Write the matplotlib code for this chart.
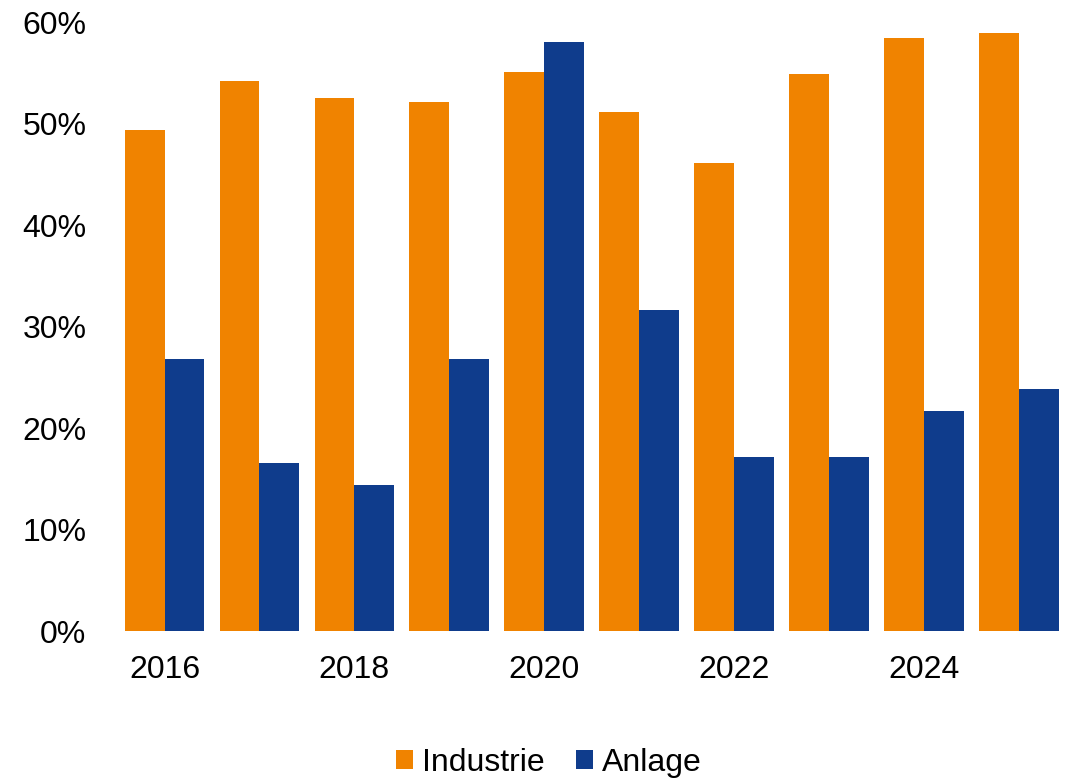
import matplotlib
matplotlib.use("Agg")
import matplotlib.pyplot as plt
import numpy as np

years = [2016, 2017, 2018, 2019, 2020, 2021, 2022, 2023, 2024, 2025]
industrie = [49.4, 54.2, 52.5, 52.1, 55.1, 51.1, 46.1, 54.9, 58.4, 58.9]
anlage = [26.8, 16.6, 14.4, 26.8, 58.0, 31.6, 17.1, 17.1, 21.7, 23.8]
year_labels = ["2016", "", "2018", "", "2020", "", "2022", "", "2024", ""]

plt.rcParams['font.family'] = ['Liberation Sans', 'DejaVu Sans']

fig = plt.figure(figsize=(10.66, 7.81), dpi=100)
ax = fig.add_axes([0.1098, 0.192, 0.8907, 0.7798])

x = np.arange(len(years))
w = 0.42
ax.bar(x - w / 2, industrie, w, color='#F08300', label='Industrie')
ax.bar(x + w / 2, anlage, w, color='#0F3C8C', label='Anlage')

ax.set_xlim(-0.5, 9.5)
ax.set_ylim(0, 60)
ax.set_yticks(range(0, 61, 10))
ax.set_yticklabels([f"{v}%" for v in range(0, 61, 10)], fontsize=23)
ax.set_xticks(x)
ax.set_xticklabels(year_labels, fontsize=23)
ax.tick_params(axis='y', length=0, pad=22)
ax.tick_params(axis='x', length=0, pad=17)
for s in ax.spines.values():
    s.set_visible(False)

fig.legend(loc='center', bbox_to_anchor=(0.515, 1 - 763 / 781), ncol=2, frameon=False,
           fontsize=23, handlelength=0.53, handleheight=0.53, handletextpad=0.28,
           columnspacing=0.97, borderpad=0)

fig.savefig("out.png", dpi=100)
